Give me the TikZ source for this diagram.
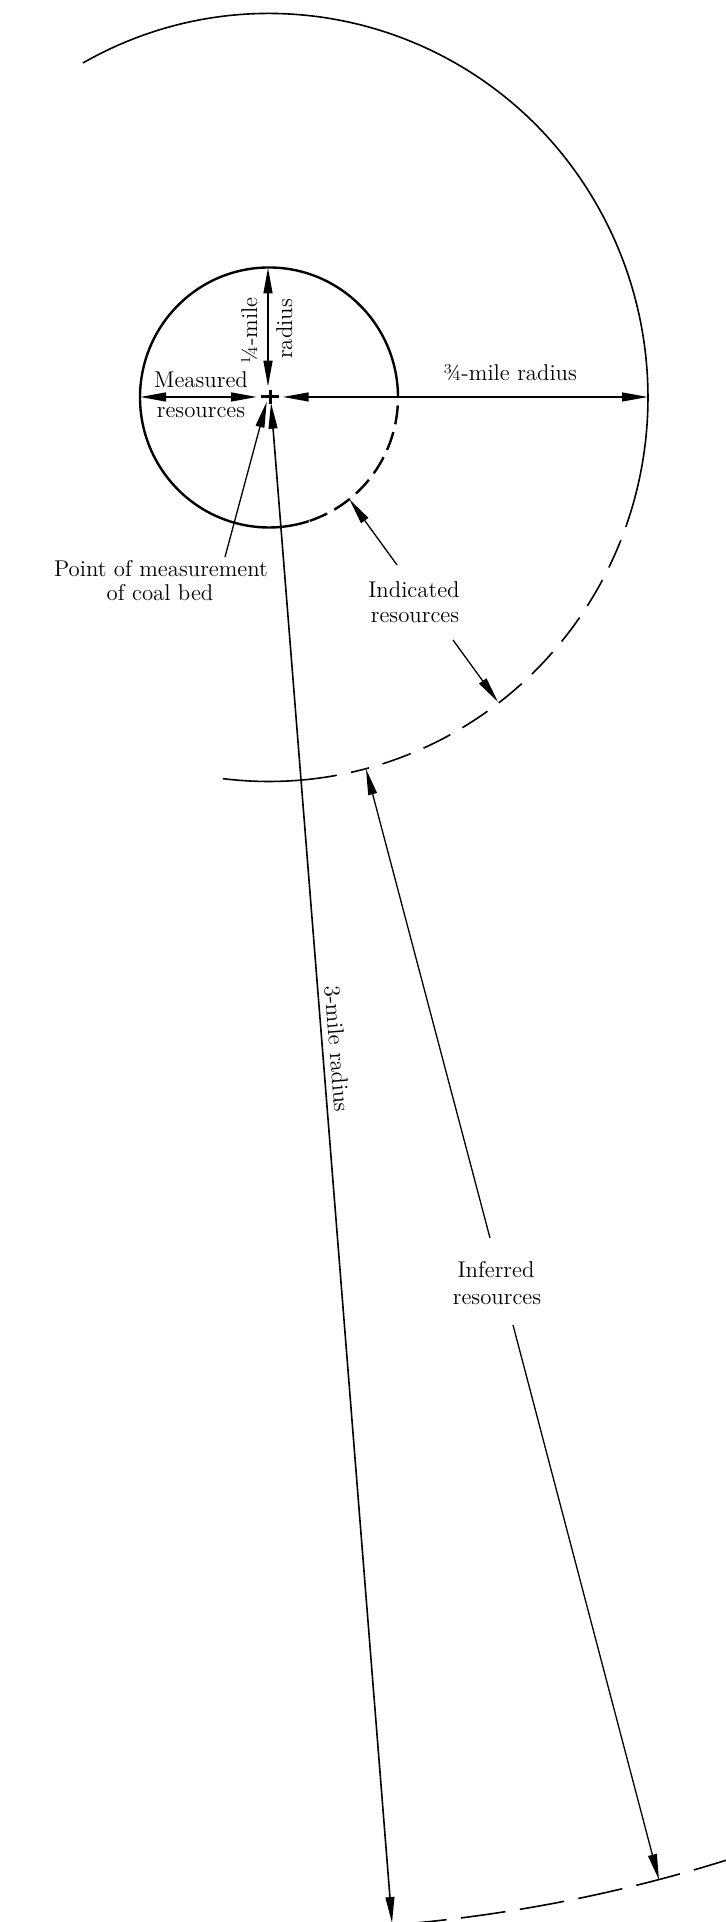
\documentclass[tikz,border=0pt]{standalone}
\usetikzlibrary{arrows.meta}
\begin{document}
\begin{tikzpicture}[x=0.5pt,y=0.5pt,
  lbl/.style={font=\fontsize{11.4}{13}\selectfont, inner sep=0pt, anchor=base},
  thinline/.style={line width=0.65pt},
  smallring/.style={line width=1.2pt},
  bigring/.style={line width=0.8pt},
  dimline/.style={line width=1pt},
  >={Triangle[length=13pt,width=4.4pt]}]
\useasboundingbox (0,0) rectangle (725,1922);

% centre
\coordinate (C) at (269,1524.5);
\coordinate (X) at (270,1525);

% 1/4-mile circle
\draw[smallring] (C) ++(0:129 and 130) arc[start angle=0,end angle=288,x radius=129,y radius=130];
\draw[smallring,dash pattern=on 9.5pt off 4pt,dash phase=9.5pt] (C) ++(0:129 and 130) arc[start angle=0,end angle=-72,x radius=129,y radius=130];

% 3/4-mile circle
\draw[bigring] (C) ++(119.4:379 and 384) arc[start angle=119.4,end angle=-19.7,x radius=379,y radius=384];
\draw[bigring,dash pattern=on 15pt off 7pt,dash phase=15pt] (C) ++(-19.7:379 and 384) arc[start angle=-19.7,end angle=-77.5,x radius=379,y radius=384];
\draw[bigring] (C) ++(-79.7:379 and 384) arc[start angle=-79.7,end angle=-97,x radius=379,y radius=384];

% 3-mile circle
\draw[bigring,dash pattern=on 22.5pt off 7.25pt] (C) ++(-70:1532.5) arc[start angle=-70,end angle=-87,radius=1532.5];

% point of measurement cross
\draw[line width=1.5pt] (X) ++(-9,0) -- ++(18,0);
\draw[line width=1.5pt] (X) ++(0,-7) -- ++(0,14);

% coordinates for connectors
\coordinate (qtop) at (268,1654.5);
\coordinate (qbot) at (268,1535.3);
\coordinate (mleft) at (140,1525);
\coordinate (mright) at (257,1525);
\coordinate (tleft) at (282.7,1525);
\coordinate (tright) at (648,1525);
\coordinate (pmtail) at (225,1365);
\coordinate (pmtip) at (266.7,1520.3);
\coordinate (r3top) at (271,1519.3);
\coordinate (r3bot) at (392,-1);
\coordinate (i1tail) at (397,1357);
\coordinate (i1tip) at (349.5,1422.5);
\coordinate (i2tail) at (453,1282);
\coordinate (i2tip) at (498,1220);
\coordinate (f1tail) at (490,684);
\coordinate (f1tip) at (366,1153);
\coordinate (f2tail) at (513,597);
\coordinate (f2tip) at (659,42);

% dimension arrows
\draw[<->,dimline] (qbot) -- (qtop);
\draw[<->,dimline] (mleft) -- (mright);
\draw[<->,line width=0.9pt] (tleft) -- (tright);
\draw[<->,bigring] (r3top) -- (r3bot);

% leaders
\draw[->,thinline] (pmtail) -- (pmtip);
\draw[->,thinline] (i1tail) -- (i1tip);
\draw[->,thinline] (i2tail) -- (i2tip);
\draw[->,thinline] (f1tail) -- (f1tip);
\draw[->,thinline] (f2tail) -- (f2tip);

% labels
\node[lbl] (meas) at (201,1534) {Measured};
\node[lbl] (mres) at (201,1504) {resources};
\node[lbl,rotate=90] (qm) at (257,1591) {¼-mile};
\node[lbl,rotate=90] (qr) at (292,1593) {radius};
\node[lbl] (tq) at (510,1541) {¾-mile radius};
\node[lbl] (pm1) at (161,1345) {Point of measurement};
\node[lbl] (pm2) at (160,1321) {of coal bed};
\node[lbl] (ind1) at (414,1324) {Indicated};
\node[lbl] (ind2) at (415,1299) {resources};
\node[lbl] (inf1) at (496,644) {Inferred};
\node[lbl] (inf2) at (497,617) {resources};
\node[lbl,rotate=-85.4] (r3) at (329.5,872.6) {3-mile radius};
\end{tikzpicture}
\end{document}
